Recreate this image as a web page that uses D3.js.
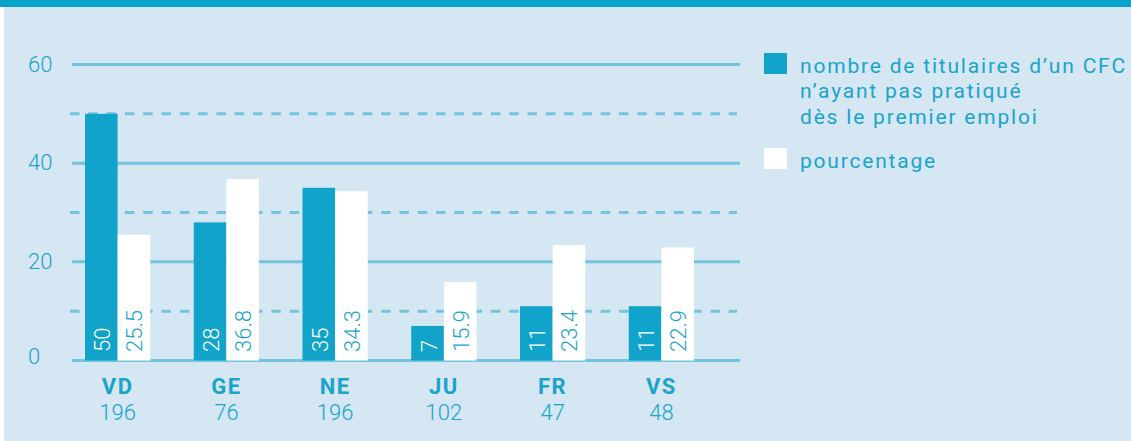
<!DOCTYPE html>
<html><head><meta charset="utf-8">
<script src="https://cdn.jsdelivr.net/npm/d3@7"></script>
<style>html,body{margin:0;padding:0;background:#fff;overflow:hidden}</style>
</head><body>
<svg id="c" width="1131" height="441"></svg>
<script>
const categories = ["VD","GE","NE","JU","FR","VS"];
const totals = [196, 76, 196, 102, 47, 48];
const counts = [50, 28, 35, 7, 11, 11];
const percents = [25.5, 36.8, 34.3, 15.9, 23.4, 22.9];
const solidTicks = [0, 20, 40, 60];
const dashedTicks = [10, 30, 50];
const seriesNames = ["nombre de titulaires d\u2019un CFC\nn\u2019ayant pas pratiqué\ndès le premier emploi", "pourcentage"];

const W = 1131, H = 441;
const TXT = "#1ba3cc", DARK = "#11a3c9", GRID = "#74c4df", BG = "#d4e7f2";
const svg = d3.select("#c");

svg.append("rect").attr("x",4).attr("y",0).attr("width",W-4).attr("height",H).attr("fill",BG);
svg.append("rect").attr("x",0).attr("y",0).attr("width",W).attr("height",7).attr("fill","#08a3cb");

const y = d3.scaleLinear().domain([0,60]).range([360.5,64.5]);
const x0 = d3.scaleBand().domain(categories).range([85,694]).paddingInner(0.4).paddingOuter(0);
const x1 = d3.scaleBand().domain(["count","pct"]).range([0,x0.bandwidth()]).padding(0);

// grid
svg.append("g").selectAll("line").data(dashedTicks).join("line")
  .attr("x1",70).attr("x2",737).attr("y1",d=>y(d)).attr("y2",d=>y(d))
  .attr("stroke",GRID).attr("stroke-width",3).attr("stroke-dasharray","9.5,8.8");
svg.append("g").selectAll("line").data(solidTicks).join("line")
  .attr("x1",72).attr("x2",740).attr("y1",d=>y(d)).attr("y2",d=>y(d))
  .attr("stroke",GRID).attr("stroke-width",3);

// y labels
svg.append("g").selectAll("text").data(solidTicks).join("text")
  .attr("x",28).attr("y",d=>y(d)+(d===0?3:7))
  .attr("font-family","Roboto").attr("font-weight",300).attr("font-size",22)
  .attr("fill",TXT).text(d=>d);

// bars
const g = svg.append("g").selectAll("g").data(categories).join("g")
  .attr("transform",d=>`translate(${x0(d)},0)`);
g.append("rect").attr("x",x1("count")).attr("width",x1.bandwidth())
  .attr("y",(d,i)=>y(counts[i])).attr("height",(d,i)=>y(0)-y(counts[i])).attr("fill",DARK);
g.append("rect").attr("x",x1("pct")).attr("width",x1.bandwidth())
  .attr("y",(d,i)=>y(percents[i])).attr("height",(d,i)=>y(0)-y(percents[i])).attr("fill","#fff");

g.append("text")
  .attr("transform",d=>`translate(${x1("count")+x1.bandwidth()/2+9},352) rotate(-90)`)
  .attr("font-family","Roboto").attr("font-weight",300).attr("font-size",22)
  .attr("fill","#fff").text((d,i)=>counts[i]);
g.append("text")
  .attr("transform",d=>`translate(${x1("pct")+x1.bandwidth()/2+8.5},352) rotate(-90)`)
  .attr("font-family","Roboto").attr("font-weight",300).attr("font-size",22)
  .attr("fill",TXT).text((d,i)=>percents[i]);

// category labels
g.append("text").attr("x",x0.bandwidth()/2).attr("y",394).attr("text-anchor","middle")
  .attr("font-family","Roboto").attr("font-weight",700).attr("font-size",22)
  .attr("letter-spacing",1.5).attr("fill",TXT).text(d=>d);
g.append("text").attr("x",x0.bandwidth()/2).attr("y",420).attr("text-anchor","middle")
  .attr("font-family","Roboto").attr("font-weight",300).attr("font-size",22)
  .attr("fill",TXT).text((d,i)=>totals[i]);

// legend
const leg = svg.append("g");
const legColors = [DARK, "#fff"];
const legY = [53, 148];
seriesNames.forEach((name,i)=>{
  leg.append("rect").attr("x",764).attr("y",legY[i]).attr("width",23).attr("height",21).attr("fill",legColors[i]);
  const t = leg.append("text").attr("x",800).attr("y",legY[i]+19.7)
    .attr("font-family","Roboto").attr("font-weight",400).attr("font-size",21)
    .attr("letter-spacing",1.8).attr("fill",TXT);
  name.split("\n").forEach((line,j)=>{
    t.append("tspan").attr("x",800).attr("dy",j===0?0:25.6).text(line);
  });
});
</script>
</body></html>
